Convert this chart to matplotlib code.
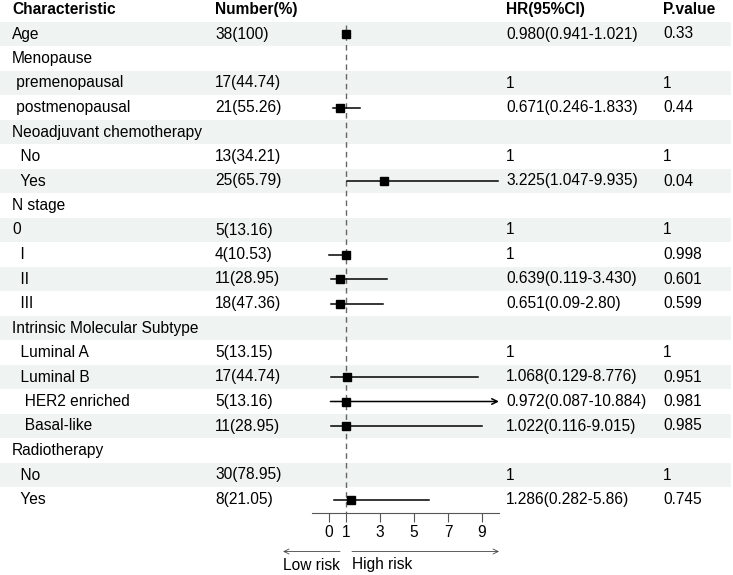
import numpy as np
import matplotlib
matplotlib.use('Agg')
import matplotlib.pyplot as plt

plt.rcParams['font.family'] = ['Liberation Sans', 'DejaVu Sans']

# table text
labels = ['Age', 'Menopause', ' premenopausal', ' postmenopausal',
          'Neoadjuvant chemotherapy', '  No', '  Yes',
          'N stage', '0', '  I', '  II', '  III',
          'Intrinsic Molecular Subtype', '  Luminal A', '  Luminal B',
          '   HER2 enriched', '   Basal-like',
          'Radiotherapy', '  No', '  Yes']
numbers = ['38(100)', '', '17(44.74)', '21(55.26)', '', '13(34.21)', '25(65.79)',
           '', '5(13.16)', '4(10.53)', '11(28.95)', '18(47.36)', '',
           '5(13.15)', '17(44.74)', '5(13.16)', '11(28.95)', '',
           '30(78.95)', '8(21.05)']
hr_text = ['0.980(0.941-1.021)', '', '1', '0.671(0.246-1.833)', '', '1',
           '3.225(1.047-9.935)', '', '1', '1', '0.639(0.119-3.430)',
           '0.651(0.09-2.80)', '', '1', '1.068(0.129-8.776)',
           '0.972(0.087-10.884)', '1.022(0.116-9.015)', '', '1',
           '1.286(0.282-5.86)']
p_text = ['0.33', '', '1', '0.44', '', '1', '0.04', '', '1', '0.998', '0.601',
          '0.599', '', '1', '0.951', '0.981', '0.985', '', '1', '0.745']

# plotted estimates (nan = reference row, nothing drawn)
est = [0.980, np.nan, np.nan, 0.671, np.nan, np.nan, 3.225, np.nan, np.nan, 1.0,
       0.639, 0.651, np.nan, np.nan, 1.068, 0.972, 1.022, np.nan, np.nan, 1.286]
lo = [0.941, np.nan, np.nan, 0.246, np.nan, np.nan, 1.047, np.nan, np.nan, 0.0,
      0.119, 0.09, np.nan, np.nan, 0.129, 0.087, 0.116, np.nan, np.nan, 0.282]
hi = [1.021, np.nan, np.nan, 1.833, np.nan, np.nan, 9.935, np.nan, np.nan, 1.0,
      3.430, 3.2, np.nan, np.nan, 8.776, 10.884, 9.015, np.nan, np.nan, 5.86]

xticks = [0, 1, 3, 5, 7, 9]
xmin, xmax = -1, 10

# layout (pixels)
W, H = 733, 575
row0, rowh = 34, 24.5
axis_px = 513

def row_of(px):
    return (px - row0) / rowh

fig = plt.figure(figsize=(W / 100, H / 100), dpi=100)

# background / table axes
bg = fig.add_axes([0, 0, 1, 1])
bg.set_xlim(0, W)
bg.set_ylim(row_of(H), row_of(0))
bg.axis('off')

n = len(labels)
for i in range(n):
    if i % 2 == 0:
        bg.axhspan(i - 0.5, i + 0.5, xmin=0, xmax=0.997, color='#eff3f2', lw=0, zorder=0)

fs = 11.2
cols = [12, 215, 506, 663]
heads = ['Characteristic', 'Number(%)', 'HR(95%CI)', 'P.value']
for x, h in zip(cols, heads):
    bg.text(x, -1, h, fontsize=fs, fontweight='bold', va='center', ha='left')
for i in range(n):
    for x, col in zip(cols, [labels, numbers, hr_text, p_text]):
        if col[i]:
            bg.text(x, i, col[i], fontsize=fs, va='center', ha='left')

# forest axes
ax_left = 312 / W
ax_w = 187 / W
fa = fig.add_axes([ax_left, (H - axis_px) / H, ax_w, axis_px / H])
fa.set_xlim(xmin, xmax)
fa.set_ylim(row_of(axis_px), row_of(0))
fa.patch.set_alpha(0)
for s in ['top', 'left', 'right']:
    fa.spines[s].set_visible(False)
fa.spines['bottom'].set_color('#555555')
fa.spines['bottom'].set_linewidth(0.8)
fa.set_yticks([])
fa.set_xticks(xticks)
fa.tick_params(axis='x', direction='out', length=6.5, width=0.8, color='#555555',
               labelsize=fs, pad=2)

# reference line
fa.vlines(1, -0.35, row_of(axis_px), colors='#666666', linestyles=(0, (4, 3)), lw=1.0, zorder=1)

for i in range(n):
    if np.isnan(est[i]):
        continue
    if hi[i] > xmax:
        fa.annotate('', xy=(xmax, i), xytext=(lo[i], i),
                    arrowprops=dict(arrowstyle='->', lw=1.1, color='black',
                                    shrinkA=0, shrinkB=0, mutation_scale=10),
                    zorder=2)
    else:
        fa.plot([lo[i], hi[i]], [i, i], color='black', lw=1.1, zorder=2)
    fa.plot(est[i], i, marker='s', color='black', markersize=5.2, zorder=3)

# risk arrows below the axis
arr_row = row_of(551.5)
txt_row = row_of(565)
ap = dict(arrowstyle='->', lw=0.6, color='#444444', shrinkA=0, shrinkB=0, mutation_scale=9)
fa.annotate('', xy=(-2.7, arr_row), xytext=(0.65, arr_row), arrowprops=ap, annotation_clip=False)
fa.annotate('', xy=(10, arr_row), xytext=(1.35, arr_row), arrowprops=ap, annotation_clip=False)
fa.text(0.65, txt_row, 'Low risk', fontsize=fs, ha='right', va='center', clip_on=False)
fa.text(1.35, txt_row, 'High risk', fontsize=fs, ha='left', va='center', clip_on=False)

fig.savefig('out.png', dpi=100)
